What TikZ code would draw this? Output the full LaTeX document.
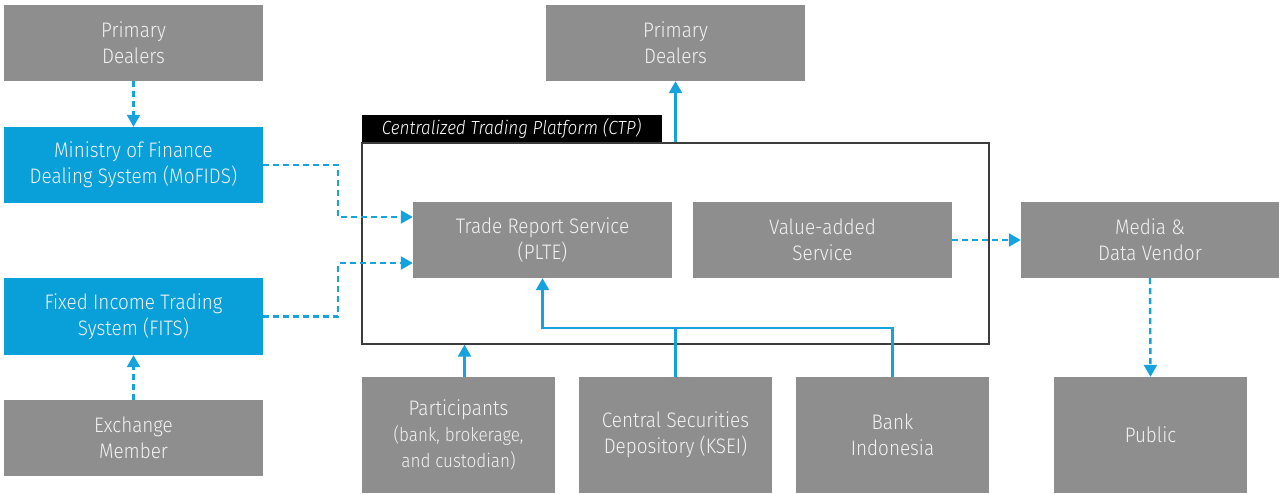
\documentclass[tikz,border=0pt]{standalone}
\usepackage{fontspec}
\setmainfont{Fira Sans Light}[ItalicFont={Fira Sans Light Italic}, FakeStretch=0.9]
\usetikzlibrary{arrows.meta}
\definecolor{boxgray}{RGB}{142,142,142}
\definecolor{boxblue}{RGB}{9,159,217}
\definecolor{linkblue}{RGB}{22,162,220}
\definecolor{txtc}{RGB}{242,242,242}
\definecolor{frameline}{RGB}{60,60,60}
\tikzset{
  box/.style={fill=boxgray, text=txtc, align=center, inner sep=0pt,
    font=\fontsize{21}{26}\selectfont, minimum width=259pt, minimum height=76pt},
  bluebox/.style={box, fill=boxblue},
  smallbox/.style={box, minimum width=193pt, minimum height=116pt},
  tip/.style={-{Triangle[width=13pt,length=12pt]}},
  slink/.style={draw=linkblue, line width=2.4pt, line join=miter},
  dlink/.style={slink, dash pattern=on 6pt off 4pt, tip},
}
\begin{document}
\begin{tikzpicture}[x=1pt,y=-1pt]
\useasboundingbox[fill=white] (0,0) rectangle (1279,493);
% CTP frame
\node[draw=frameline, line width=1.3pt, minimum width=627pt, minimum height=201pt, inner sep=0pt] (ctp) at (675.5,243.5) {};
\node[fill=black, text=white, font=\fontsize{19}{20}\selectfont\itshape, minimum width=300pt, minimum height=27pt, inner sep=0pt, anchor=south west] (ctpl) at (ctp.north west) {Centralized Trading Platform (CTP)};
% boxes
\node[box] (pdl) at (133.5,43) {Primary\\Dealers};
\node[bluebox] (mof) at (133.5,165) {Ministry of Finance\\Dealing System (MoFIDS)};
\node[bluebox, minimum height=77pt] (fits) at (133.5,316.5) {Fixed Income Trading\\System (FITS)};
\node[box] (exm) at (133.5,438) {Exchange\\Member};
\node[box] (pdr) at (675.5,43) {Primary\\Dealers};
\node[box] (trs) at (542.5,240) {Trade Report Service\\(PLTE)};
\node[box] (vas) at (822.5,240) {Value-added\\Service};
\node[box, minimum width=258pt] (mdv) at (1150,240) {Media \&\\Data Vendor};
\node[smallbox] (pub) at (1150.5,435) {Public};
\node[smallbox] (par) at (458.5,435) {Participants\\{\fontsize{19}{25}\selectfont (bank, brokerage,}\\{\fontsize{19}{25}\selectfont and custodian)}};
\node[smallbox] (csd) at (675.5,435) {Central Securities\\Depository (KSEI)};
\node[smallbox] (bi) at (892.5,435) {Bank\\Indonesia};
% dashed connectors
\draw[dlink] (pdl.south) -- (mof.north);
\draw[dlink] (exm.north) -- (fits.south);
\draw[dlink] (mof.east) -- ++(75,0) |- ([yshift=23pt]trs.west);
\draw[dlink] (fits.east) -- ++(75,0) |- ([yshift=-23pt]trs.west);
\draw[dlink] (vas.east) -- (mdv.west);
\draw[dlink] (mdv.south) -- (pub.north);
% solid connectors
\draw[slink, tip] (ctp.north -| pdr.south) -- (pdr.south);
\draw[slink, tip] ([xshift=6pt]par.north) -- ([xshift=6pt]par.north |- ctp.south);
\coordinate (j) at ([yshift=-50pt]trs.south);
\draw[slink] (csd.north) -- (csd.north |- j);
\draw[slink, tip] (bi.north) -- (bi.north |- j) -- (j) -- (trs.south);
\end{tikzpicture}
\end{document}
